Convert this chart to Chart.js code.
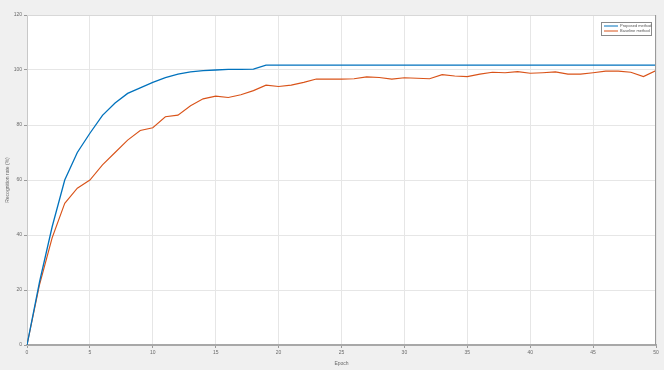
<!DOCTYPE html>
<html>
<head>
<meta charset="utf-8">
<script src="https://cdn.jsdelivr.net/npm/chart.js@4.4.0/dist/chart.umd.min.js"></script>
<style>
  html, body { margin: 0; padding: 0; background: #f0f0f0; }
  #wrap { width: 664px; height: 370px; }
</style>
</head>
<body>
<div id="wrap"><canvas id="rateChart" width="664" height="370"></canvas></div>
<script>
var epochs = [];
for (var i = 0; i <= 50; i++) epochs.push(i);

var seriesNames = ['Proposed method', 'Baseline method'];

var seriesA = [0, 23, 43, 60, 70, 77, 83.5, 88, 91.5, 93.5,
               95.5, 97.2, 98.5, 99.3, 99.8, 100, 100.2, 100.2, 100.3, 101.8,
               101.8, 101.8, 101.8, 101.8, 101.8, 101.8, 101.8, 101.8, 101.8, 101.8,
               101.8, 101.8, 101.8, 101.8, 101.8, 101.8, 101.8, 101.8, 101.8, 101.8,
               101.8, 101.8, 101.8, 101.8, 101.8, 101.8, 101.8, 101.8, 101.8, 101.8,
               101.8];

var seriesB = [0, 22, 39, 51.5, 57, 60, 65.5, 70, 74.5, 78,
               79, 83, 83.6, 87, 89.5, 90.5, 90, 91, 92.5, 94.5,
               94, 94.5, 95.5, 96.7, 96.7, 96.7, 96.8, 97.5, 97.3, 96.7,
               97.2, 97, 96.8, 98.3, 97.8, 97.6, 98.5, 99.2, 99, 99.4,
               98.8, 99, 99.3, 98.5, 98.5, 99, 99.6, 99.6, 99.2, 97.6,
               99.8];

var xTicks = [0, 5, 10, 15, 20, 25, 30, 35, 40, 45, 50];
var yTicks = [0, 20, 40, 60, 80, 100, 120];

var colors = ['#0072BD', '#D95319'];

function toPoints(ys) {
     return ys.map(function (v, i) { return { x: epochs[i], y: v }; });
}

// white axes area, box outline and an inset legend
var axesBox = {
     id: 'axesBox',
     beforeDraw: function (chart) {
          var a = chart.chartArea, ctx = chart.ctx;
          ctx.save();
          ctx.fillStyle = '#ffffff';
          ctx.fillRect(a.left, a.top, a.right - a.left, a.bottom - a.top);
          ctx.restore();
     },
     afterDraw: function (chart) {
          var a = chart.ctx, area = chart.chartArea;
          a.save();
          a.strokeStyle = '#d8d8d8';
          a.lineWidth = 1;
          a.beginPath();
          a.moveTo(area.left, area.top + 0.5);
          a.lineTo(area.right, area.top + 0.5);
          a.stroke();
          a.strokeStyle = '#9a9a9a';
          a.beginPath();
          a.moveTo(area.right - 0.5, area.top);
          a.lineTo(area.right - 0.5, area.bottom);
          a.stroke();

          // legend
          var lx = 601, ly = 22, lw = 50, lh = 13;
          a.fillStyle = '#ffffff';
          a.fillRect(lx, ly, lw, lh);
          a.strokeStyle = '#8a8a8a';
          a.strokeRect(lx + 0.5, ly + 0.5, lw, lh);
          a.font = '4px Arial, "Liberation Sans", sans-serif';
          a.textBaseline = 'middle';
          chart.data.datasets.forEach(function (ds, k) {
               var yy = ly + 4 + k * 5;
               a.strokeStyle = ds.borderColor;
               a.lineWidth = 1;
               a.beginPath();
               a.moveTo(lx + 3, yy);
               a.lineTo(lx + 17, yy);
               a.stroke();
               a.fillStyle = '#555555';
               a.fillText(ds.label, lx + 19, yy);
          });
          a.restore();
     }
};

new Chart(document.getElementById('rateChart'), {
     type: 'line',
     data: {
          datasets: [
               {
                    label: seriesNames[0],
                    data: toPoints(seriesA),
                    borderColor: colors[0],
                    borderWidth: 1.3,
                    pointRadius: 0,
                    tension: 0,
                    fill: false
               },
               {
                    label: seriesNames[1],
                    data: toPoints(seriesB),
                    borderColor: colors[1],
                    borderWidth: 1.1,
                    pointRadius: 0,
                    tension: 0,
                    fill: false
               }
          ]
     },
     plugins: [axesBox],
     options: {
          responsive: false,
          animation: false,
          layout: { padding: { top: 15, right: 8, left: 0, bottom: 0 } },
          plugins: {
               legend: { display: false },
               tooltip: { enabled: false }
          },
          scales: {
               x: {
                    type: 'linear',
                    min: 0,
                    max: 50,
                    afterBuildTicks: function (scale) {
                         scale.ticks = xTicks.map(function (v) { return { value: v }; });
                    },
                    afterFit: function (scale) { scale.height = 25; },
                    grid: { color: '#e6e6e6', tickLength: 3, tickColor: '#9a9a9a' },
                    border: { color: '#a8a8a8', width: 2 },
                    ticks: {
                         color: '#6a6a6a',
                         font: { size: 5, family: 'Arial, "Liberation Sans", sans-serif' },
                         padding: 2,
                         maxRotation: 0
                    },
                    title: {
                         display: true,
                         text: 'Epoch',
                         color: '#6a6a6a',
                         font: { size: 5, family: 'Arial, "Liberation Sans", sans-serif' },
                         padding: { top: 0, bottom: 3 }
                    }
               },
               y: {
                    min: 0,
                    max: 120,
                    afterBuildTicks: function (scale) {
                         scale.ticks = yTicks.map(function (v) { return { value: v }; });
                    },
                    afterFit: function (scale) { scale.width = 27; },
                    grid: { color: '#e6e6e6', tickLength: 3, tickColor: '#9a9a9a' },
                    border: { color: '#c8c8c8', width: 1 },
                    ticks: {
                         color: '#6a6a6a',
                         font: { size: 5, family: 'Arial, "Liberation Sans", sans-serif' },
                         padding: 2
                    },
                    title: {
                         display: true,
                         text: 'Recognition rate (%)',
                         color: '#6a6a6a',
                         font: { size: 5, family: 'Arial, "Liberation Sans", sans-serif' },
                         padding: { top: 5, bottom: 0 }
                    }
               }
          }
     }
});
</script>
</body>
</html>
